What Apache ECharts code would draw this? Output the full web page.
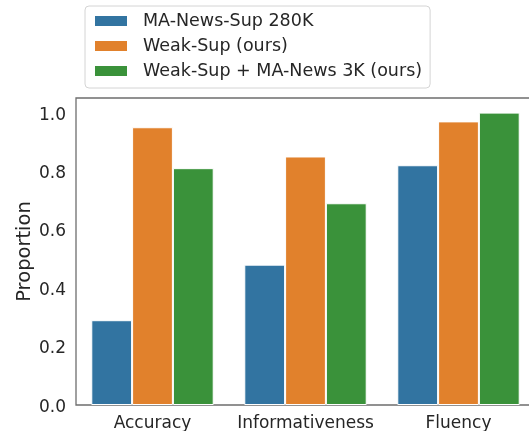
<!DOCTYPE html>
<html>
<head>
<meta charset="utf-8">
<script src="https://cdn.jsdelivr.net/npm/echarts@6/dist/echarts.min.js"></script>
<style>
  html, body { margin: 0; padding: 0; background: #fff; }
  #chart { width: 529px; height: 431px; }
</style>
</head>
<body>
<div id="chart"></div>
<script>
// 数据
var categories = ['Accuracy', 'Informativeness', 'Fluency'];
var seriesNames = ['MA-News-Sup 280K', 'Weak-Sup (ours)', 'Weak-Sup + MA-News 3K (ours)'];
var maNewsSup = [0.29, 0.48, 0.82];
var weakSup = [0.95, 0.85, 0.97];
var weakSupMaNews = [0.81, 0.69, 1.00];
var colors = ['#3274a1', '#e1812c', '#3a923a'];

var chart = echarts.init(document.getElementById('chart'));

var font = 'DejaVu Sans';
var textColor = '#262626';

function barSeries(name, data, color) {
  return {
    name: name,
    type: 'bar',
    data: data,
    barWidth: '26.67%',
    barGap: '0%',
    itemStyle: { color: color, borderColor: '#fff', borderWidth: 1 }
  };
}

var option = {
  animation: false,
  color: colors,
  grid: {
    left: 76, width: 459, top: 98, height: 307,
    outerBoundsMode: 'none',
    containLabel: false,
    show: true, borderColor: '#6e6e6e', borderWidth: 1.3,
    backgroundColor: 'transparent'
  },
  legend: {
    orient: 'vertical',
    left: 85, top: 6,
    padding: [5, 8, 7, 8],
    backgroundColor: '#fff',
    borderColor: '#d4d4d4',
    borderWidth: 1,
    borderRadius: 4,
    itemWidth: 34,
    itemHeight: 12,
    itemGap: 5,
    icon: 'rect',
    textStyle: {
      fontFamily: font, fontSize: 17.5, color: textColor,
      lineHeight: 20, padding: [0, 0, 0, 10]
    },
    data: seriesNames
  },
  xAxis: {
    type: 'category',
    data: categories,
    axisLine: { show: false },
    axisTick: { show: false },
    axisLabel: { fontFamily: font, fontSize: 17, color: textColor, margin: 10, interval: 0 }
  },
  yAxis: {
    type: 'value',
    min: 0, max: 1.05, interval: 0.2,
    name: 'Proportion',
    nameLocation: 'middle',
    nameGap: 41,
    nameMoveOverlap: false,
    nameTextStyle: { fontFamily: font, fontSize: 19.5, color: textColor },
    axisLine: { show: false },
    axisTick: { show: false },
    splitLine: { show: false },
    axisLabel: {
      fontFamily: font, fontSize: 17, color: textColor, margin: 10,
      showMaxLabel: false,
      formatter: function (v) { return '{t|' + v.toFixed(1) + '}'; },
      rich: {
        t: { fontFamily: font, fontSize: 17, color: textColor, padding: [5, 0, 0, 0] }
      }
    }
  },
  series: [
    barSeries(seriesNames[0], maNewsSup, colors[0]),
    barSeries(seriesNames[1], weakSup, colors[1]),
    barSeries(seriesNames[2], weakSupMaNews, colors[2])
  ]
};

chart.setOption(option);
</script>
</body>
</html>
